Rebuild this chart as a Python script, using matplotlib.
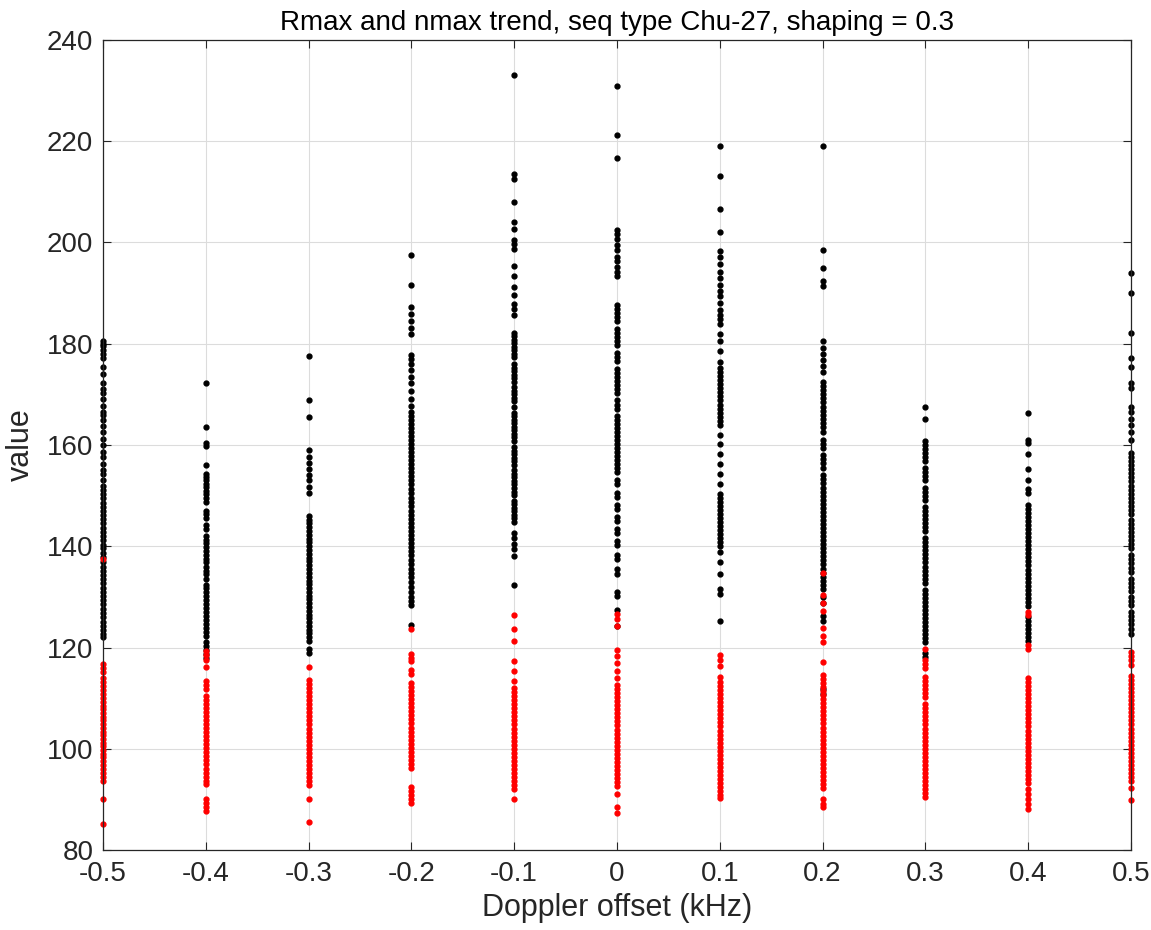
import matplotlib.pyplot as plt

plt.rcParams['font.family'] = ['Liberation Sans', 'DejaVu Sans']
plt.rcParams['axes.unicode_minus'] = False

# Doppler offsets (kHz), one column of points per offset
offsets = [-0.5, -0.4, -0.3, -0.2, -0.1, 0.0, 0.1, 0.2, 0.3, 0.4, 0.5]

# Rmax values (black) per offset
rmax = {
    -0.5: [180.5, 180.0, 179.5, 178.8, 178.0, 177.2, 175.5, 174.0, 172.3, 171.0, 170.2, 169.0, 167.8,
           166.5, 165.9, 165.0, 163.8, 162.5, 161.2, 160.0, 158.7, 157.6, 156.3, 155.0, 154.2, 153.1,
           152.0, 151.2, 150.4, 149.5, 148.6, 147.8, 147.0, 146.1, 145.3, 144.5, 143.7, 142.8, 142.0,
           141.2, 140.3, 139.6, 138.7, 137.8, 136.9, 136.0, 135.2, 134.4, 133.5, 132.7, 131.8, 131.0,
           130.1, 129.3, 128.5, 127.6, 126.8, 126.0, 125.1, 124.3, 123.5, 122.7, 122.0],
    -0.4: [172.2, 163.6, 160.3, 159.8, 156.0, 154.2, 153.6, 153.0, 152.3, 151.7, 151.0, 150.3, 149.5,
           148.8, 147.0, 146.3, 145.6, 144.2, 143.5, 142.0, 141.3, 140.6, 139.8, 139.0, 138.3, 137.5,
           136.8, 136.0, 135.2, 134.5, 133.6, 132.4, 131.7, 130.9, 130.2, 129.4, 128.6, 127.8, 127.0,
           126.2, 125.4, 124.6, 123.8, 123.0, 122.2, 121.0, 120.3, 119.5, 118.7, 118.0],
    -0.3: [177.5, 168.9, 165.5, 159.0, 157.6, 156.4, 155.2, 154.0, 153.0, 151.8, 150.6, 146.0, 145.2,
           144.5, 143.8, 143.0, 142.3, 141.5, 140.8, 140.0, 139.2, 138.5, 137.7, 137.0, 136.2, 135.5,
           134.7, 134.0, 133.2, 132.5, 131.7, 131.0, 130.2, 129.5, 128.7, 128.0, 127.3, 126.5, 125.8,
           125.0, 124.3, 123.5, 122.8, 122.0, 121.3, 119.8, 119.0],
    -0.2: [197.5, 191.7, 187.2, 185.8, 184.5, 183.2, 182.0, 177.8, 177.0, 176.0, 174.8, 173.5, 172.2,
           170.6, 169.0, 167.8, 166.5, 165.8, 165.0, 164.2, 163.4, 162.6, 161.8, 161.0, 160.2, 159.4,
           158.6, 157.8, 157.0, 156.2, 155.4, 154.6, 153.8, 153.0, 152.2, 151.4, 150.5, 149.6, 148.8,
           148.0, 147.0, 146.2, 145.4, 144.6, 143.8, 143.0, 142.2, 141.4, 140.6, 139.8, 139.0, 138.2,
           137.2, 136.4, 135.6, 134.8, 134.0, 133.0, 132.0, 131.0, 130.0, 129.2, 128.4, 124.5],
    -0.1: [233.1, 213.6, 212.6, 208.0, 204.1, 202.6, 200.4, 199.7, 198.8, 195.4, 193.3, 191.2, 189.6,
           187.8, 186.8, 185.6, 182.2, 181.5, 180.8, 180.1, 179.4, 178.7, 178.0, 177.3, 176.0, 175.3,
           174.6, 173.9, 173.2, 172.5, 171.4, 170.7, 170.0, 169.3, 168.6, 167.5, 166.4, 165.7, 165.0,
           164.3, 163.6, 162.9, 162.2, 161.5, 160.8, 159.6, 158.9, 158.2, 157.5, 156.8, 156.1, 155.0,
           154.3, 153.6, 152.9, 152.2, 151.5, 150.8, 150.1, 149.0, 148.3, 147.6, 146.9, 146.2, 145.5,
           144.8, 142.6, 141.6, 140.4, 139.4, 138.0, 132.4],
    0.0: [231.0, 221.2, 216.6, 202.4, 201.6, 200.6, 199.6, 198.5, 197.2, 196.3, 195.2, 194.2, 193.3,
          187.6, 186.9, 186.1, 185.3, 184.5, 183.0, 182.2, 181.4, 180.6, 179.8, 178.2, 177.4, 176.6,
          175.0, 174.2, 173.4, 172.6, 171.8, 171.0, 170.2, 168.8, 168.0, 167.2, 165.8, 165.0, 164.2,
          163.4, 162.6, 161.8, 161.0, 160.2, 159.4, 158.6, 157.8, 157.0, 156.2, 155.4, 154.6, 153.0,
          152.2, 150.6, 149.8, 148.2, 147.4, 145.8, 145.0, 143.4, 142.6, 141.0, 140.2, 138.2, 137.4,
          135.5, 134.5, 131.0, 130.2, 127.5, 124.3],
    0.1: [219.0, 213.2, 206.6, 202.1, 198.4, 197.2, 195.8, 194.2, 192.9, 191.6, 190.5, 189.4, 188.0,
          186.6, 185.7, 184.9, 183.9, 182.0, 180.5, 178.5, 176.4, 175.2, 174.4, 173.6, 172.8, 172.0,
          171.2, 170.4, 169.6, 168.8, 168.0, 167.2, 166.4, 165.6, 164.8, 163.9, 162.0, 160.1, 158.2,
          156.3, 154.2, 152.3, 150.4, 149.6, 148.8, 148.0, 147.2, 146.4, 145.6, 144.8, 144.0, 143.2,
          142.4, 141.6, 140.8, 140.0, 138.8, 136.8, 134.6, 131.6, 130.6, 125.3],
    0.2: [219.0, 198.6, 195.0, 192.4, 191.5, 180.5, 179.2, 178.0, 176.8, 175.6, 174.4, 172.4, 171.6,
          170.8, 170.0, 169.2, 168.4, 167.6, 166.8, 166.0, 165.2, 164.4, 163.6, 162.6, 161.0, 160.2,
          159.4, 158.0, 157.2, 156.4, 155.4, 154.0, 153.2, 152.4, 151.6, 150.8, 150.0, 149.2, 148.4,
          147.6, 146.8, 146.0, 145.2, 144.4, 143.6, 142.8, 142.0, 141.2, 140.4, 139.6, 138.8, 138.0,
          137.2, 136.4, 135.6, 134.8, 134.0, 133.2, 132.4, 131.6, 130.0, 128.8, 126.3, 125.2, 111.9,
          110.8],
    0.3: [167.5, 165.2, 160.8, 160.0, 159.2, 158.4, 157.6, 156.8, 155.4, 154.6, 153.8, 153.0, 151.6,
          150.8, 150.0, 149.2, 147.8, 147.0, 146.2, 145.4, 144.6, 143.8, 143.0, 141.6, 140.8, 140.0,
          139.2, 138.4, 137.6, 136.8, 136.0, 135.2, 134.4, 133.6, 132.8, 131.4, 130.6, 129.8, 129.0,
          128.2, 127.4, 126.6, 125.8, 125.0, 124.2, 123.4, 122.6, 121.8, 121.0, 119.0, 118.2],
    0.4: [166.3, 161.0, 160.4, 158.2, 155.3, 153.0, 151.4, 150.6, 148.2, 147.4, 146.6, 145.8, 145.0,
          144.2, 143.4, 142.6, 141.8, 141.0, 140.2, 139.4, 138.6, 137.8, 137.0, 136.2, 135.4, 134.6,
          133.8, 133.0, 132.2, 131.4, 130.6, 129.8, 129.0, 128.2, 126.0, 125.2, 124.4, 123.6, 122.8,
          122.0, 121.2],
    0.5: [194.0, 190.0, 182.2, 177.2, 175.4, 172.2, 171.2, 167.6, 166.6, 165.2, 164.0, 162.6, 161.0,
          158.4, 157.6, 156.8, 156.0, 155.2, 154.4, 153.6, 152.8, 152.0, 151.2, 150.4, 149.6, 148.8,
          148.0, 147.2, 146.4, 145.2, 144.4, 143.6, 142.8, 142.0, 141.2, 140.4, 139.6, 138.2, 137.4,
          136.6, 135.8, 135.0, 133.6, 132.8, 132.0, 131.2, 130.0, 129.2, 128.4, 127.0, 126.2, 125.4,
          124.6, 123.6, 122.6],
}

# nmax values (red) per offset
nmax = {
    -0.5: [137.5, 116.8, 116.0, 115.2, 114.0, 113.2, 112.4, 111.6, 110.8, 110.0, 109.3, 108.5, 107.8,
           107.0, 106.3, 105.6, 104.9, 104.1, 103.4, 102.7, 102.0, 101.2, 100.5, 99.8, 99.0, 98.3,
           97.6, 96.8, 96.0, 95.2, 94.4, 93.6, 90.0, 85.2],
    -0.4: [119.3, 118.5, 117.5, 116.2, 113.4, 112.6, 111.8, 110.5, 109.6, 108.8, 108.0, 107.2, 106.4,
           105.7, 104.9, 104.1, 103.3, 102.5, 101.7, 100.9, 100.1, 99.3, 98.5, 97.7, 96.9, 96.1,
           95.3, 94.5, 93.7, 93.0, 90.0, 89.3, 88.5, 87.8],
    -0.3: [116.2, 113.6, 112.8, 112.0, 111.2, 110.4, 109.6, 108.8, 108.0, 107.2, 106.4, 105.6, 104.8,
           104.0, 103.2, 102.4, 101.6, 100.8, 100.0, 99.2, 98.4, 97.6, 96.8, 96.0, 95.2, 94.4, 93.6,
           92.8, 90.0, 85.5],
    -0.2: [123.6, 118.8, 118.0, 117.3, 115.6, 114.8, 113.0, 112.2, 111.4, 110.6, 109.8, 109.0, 108.2,
           107.4, 106.6, 105.8, 105.0, 104.2, 103.4, 102.6, 101.8, 101.0, 100.2, 99.4, 98.6, 97.8,
           97.0, 96.2, 92.4, 91.6, 90.8, 90.0, 89.2],
    -0.1: [126.5, 123.6, 121.2, 117.4, 115.3, 113.4, 112.0, 111.2, 110.4, 109.6, 108.8, 108.0, 107.2,
           106.4, 105.6, 104.8, 104.0, 103.2, 102.4, 101.6, 100.8, 100.0, 99.2, 98.4, 97.6, 96.8,
           96.0, 95.2, 94.4, 93.6, 92.8, 92.0, 90.0],
    0.0: [126.6, 125.6, 124.3, 119.6, 118.3, 117.0, 115.4, 114.0, 112.6, 111.8, 111.0, 110.2, 109.4,
          108.6, 107.8, 107.0, 106.2, 105.4, 104.6, 103.8, 103.0, 102.2, 101.4, 100.6, 99.8, 99.0,
          98.2, 97.4, 96.6, 95.8, 95.0, 94.2, 93.4, 92.6, 91.0, 88.5, 87.3],
    0.1: [118.6, 117.6, 116.4, 114.2, 113.2, 112.4, 111.6, 110.8, 110.0, 109.2, 108.4, 107.6, 106.8,
          106.0, 105.2, 104.4, 103.6, 102.8, 102.0, 101.2, 100.4, 99.6, 98.8, 98.0, 97.2, 96.4,
          95.6, 94.8, 94.0, 93.2, 92.4, 91.6, 90.8, 90.2],
    0.2: [134.8, 130.3, 128.8, 127.2, 123.8, 122.2, 121.0, 117.2, 114.6, 113.8, 113.0, 112.2, 111.4,
          110.6, 109.8, 109.0, 108.2, 107.4, 106.6, 105.8, 105.0, 104.2, 103.4, 102.6, 101.8, 101.0,
          100.2, 99.4, 98.6, 97.8, 97.0, 96.2, 95.4, 94.6, 93.8, 93.0, 92.2, 90.0, 89.0, 88.5],
    0.3: [119.8, 117.6, 116.8, 116.0, 114.2, 113.4, 112.6, 111.8, 111.0, 110.2, 108.8, 108.0, 107.2,
          106.4, 105.6, 104.8, 104.0, 103.2, 102.4, 101.6, 100.8, 100.0, 99.2, 98.4, 97.6, 96.8,
          96.0, 95.2, 94.4, 93.6, 92.8, 92.0, 91.2, 90.5],
    0.4: [127.0, 126.4, 120.5, 119.8, 114.0, 113.2, 112.4, 111.6, 110.8, 110.0, 109.2, 108.4, 107.6,
          106.8, 106.0, 105.2, 104.4, 103.6, 102.8, 102.0, 101.2, 100.4, 99.6, 98.8, 98.0, 97.2,
          96.4, 95.6, 94.8, 94.0, 93.2, 92.0, 91.0, 90.0, 89.0, 88.2],
    0.5: [119.2, 118.4, 117.6, 116.6, 114.4, 113.6, 112.8, 112.0, 111.2, 110.4, 109.6, 108.8, 108.0,
          107.2, 106.4, 105.6, 104.8, 104.0, 103.2, 102.4, 101.6, 100.8, 100.0, 99.2, 98.4, 97.6,
          96.8, 96.0, 95.2, 94.4, 93.6, 92.2, 89.8],
}

xtick_labels = ['-0.5', '-0.4', '-0.3', '-0.2', '-0.1', '0', '0.1', '0.2', '0.3', '0.4', '0.5']
yticks = [80, 100, 120, 140, 160, 180, 200, 220, 240]

fig = plt.figure(figsize=(11.51, 9.30), dpi=100)
ax = fig.add_axes([0.0895, 0.086, 0.893, 0.871])

for x in offsets:
    ax.plot([x] * len(rmax[x]), rmax[x], '.', color='black', markersize=7, clip_on=False)
for x in offsets:
    ax.plot([x] * len(nmax[x]), nmax[x], '.', color='red', markersize=7, clip_on=False)

ax.set_xlim(-0.5, 0.5)
ax.set_ylim(80, 240)
ax.set_xticks(offsets)
ax.set_xticklabels(xtick_labels)
ax.set_yticks(yticks)

ax.grid(True, color='#dcdcdc', linewidth=0.8)
ax.set_axisbelow(True)
ax.tick_params(direction='in', length=6, width=0.8, labelsize=20, colors='#262626',
               top=True, right=True)
ax.tick_params(axis='x', pad=8)
ax.tick_params(axis='y', pad=7)
for s in ax.spines.values():
    s.set_color('#262626')
    s.set_linewidth(0.9)

ax.set_title('Rmax and nmax trend, seq type Chu-27, shaping = 0.3', fontsize=20, pad=7)
ax.set_xlabel('Doppler offset (kHz)', fontsize=22, color='#262626', labelpad=4)
ax.set_ylabel('value', fontsize=22, color='#262626', labelpad=8)

fig.savefig('out.png', dpi=100)
